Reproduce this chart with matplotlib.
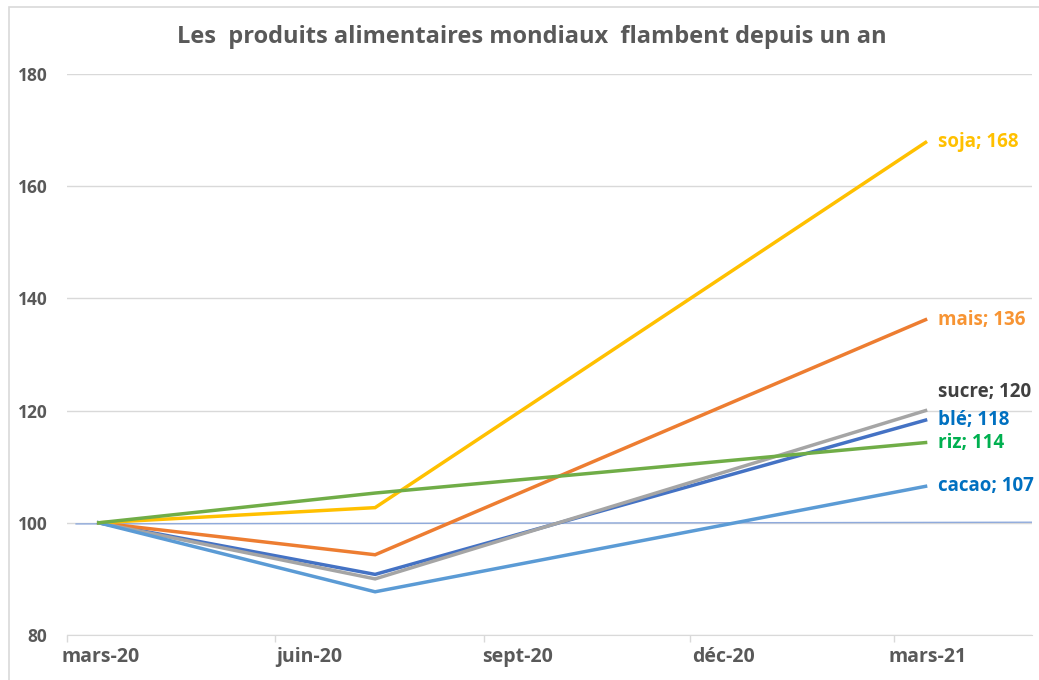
import pandas as pd
import matplotlib.pyplot as plt
import matplotlib.dates as mdates
from matplotlib.patches import Rectangle

plt.rcParams['font.family'] = ['Open Sans', 'DejaVu Sans']

# Données (base 100 en mars 2020)
dates = pd.to_datetime(['2020-03-15', '2020-07-15', '2021-03-15'])
produits = ['blé', 'mais', 'sucre', 'soja', 'cacao', 'riz']
ble = [100, 90.8, 118.3]
mais = [100, 94.3, 136.2]
sucre = [100, 90.0, 120.0]
soja = [100, 102.7, 167.8]
cacao = [100, 87.7, 106.5]
riz = [100, 105.3, 114.3]
etiquettes = ['blé; 118', 'mais; 136', 'sucre; 120', 'soja; 168', 'cacao; 107', 'riz; 114']

base_dates = pd.to_datetime(['2020-03-05', '2021-05-01'])
base_vals = [99.8, 100.1]

mois_ticks = pd.to_datetime(['2020-03-01', '2020-06-01', '2020-09-01', '2020-12-01', '2021-03-01'])
mois_labels = ['mars-20', 'juin-20', 'sept-20', 'déc-20', 'mars-21']

couleurs = ['#4472C4', '#ED7D31', '#A5A5A5', '#FFC000', '#5B9BD5', '#70AD47']
couleurs_txt = ['#0070C0', '#F79433', '#404040', '#FFC000', '#0070C0', '#00B050']
decal_y = [0, 0, 19, 0, 0, 0]

gris = '#595959'

fig = plt.figure(figsize=(10.39, 6.80), dpi=100)
ax = fig.add_axes([0.0645, 0.0662, 0.9288, 0.8250])

# cadre du graphique
fig.patches.append(Rectangle((9 / 1039, -0.1), 1.2, 1.1 - 7 / 680, transform=fig.transFigure,
                             fill=False, edgecolor='#D9D9D9', linewidth=1.2))

ax.plot(base_dates, base_vals, color='#8FAADC', linewidth=1.0, zorder=2)

series = [ble, mais, sucre, soja, cacao, riz]
for i, valeurs in enumerate(series):
    ax.plot(dates, valeurs, color=couleurs[i], linewidth=2.5, zorder=3, solid_joinstyle='miter')
    ax.annotate(etiquettes[i], xy=(dates[-1], valeurs[-1]), xytext=(9, decal_y[i] * 0.72),
                textcoords='offset points', ha='left', va='center',
                fontsize=13.5, fontweight='bold', color=couleurs_txt[i])

ax.set_ylim(80, 180)
ax.set_yticks([80, 100, 120, 140, 160, 180])
ax.set_xlim(pd.Timestamp('2020-03-01'), pd.Timestamp('2021-05-01'))

# ticks mensuels sans étiquette, étiquettes au milieu du mois
ax.set_xticks(mois_ticks)
ax.set_xticklabels([])
ax.set_xticks(mois_ticks + pd.Timedelta(days=15), minor=True)
ax.set_xticklabels(mois_labels, minor=True)
ax.tick_params(axis='x', which='major', length=5, color='#D9D9D9', width=1)
ax.tick_params(axis='x', which='minor', length=0, pad=9, labelsize=14, labelcolor=gris)
for lab in ax.get_xticklabels(minor=True):
    lab.set_fontweight('bold')

ax.tick_params(axis='y', length=0, pad=14, labelsize=12.5, labelcolor=gris)
for lab in ax.get_yticklabels():
    lab.set_fontweight('bold')

ax.grid(axis='y', color='#D9D9D9', linewidth=1)
ax.set_axisbelow(True)
for s in ['left', 'right', 'top']:
    ax.spines[s].set_visible(False)
ax.spines['bottom'].set_color('#D9D9D9')

fig.text(0.512, 0.945, 'Les  produits alimentaires mondiaux  flambent depuis un an',
         ha='center', va='center', fontsize=17, fontweight='bold', color=gris)

fig.savefig('out.png', dpi=100)
